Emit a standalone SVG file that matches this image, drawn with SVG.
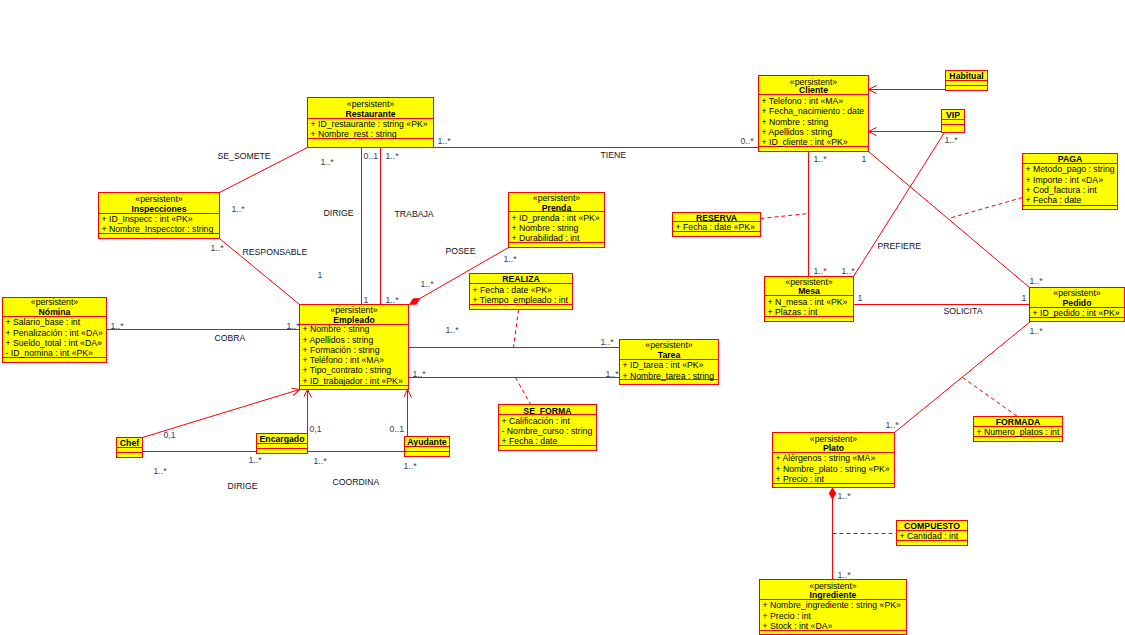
<svg xmlns="http://www.w3.org/2000/svg" width="1125" height="635" viewBox="0 0 1125 635">
<style>
.box{fill:#ffff00;stroke:#ff0000;stroke-width:1}
.sep{stroke:#ff0000;fill:none;stroke-width:1}
text{font-family:"Liberation Sans",Arial,sans-serif;font-size:8.7px;fill:#000}
.st{text-anchor:middle}
.nm{text-anchor:middle;font-weight:bold}
.ml{fill:#3c3c5c}
.al{fill:#10102a}
.ln{stroke:#ff0000;fill:none;stroke-width:1}
.dl{stroke:#ff0000;fill:none;stroke-width:1;stroke-dasharray:4 3}
</style>
<defs>
<marker id="gen" markerUnits="userSpaceOnUse" markerWidth="10" markerHeight="10" refX="8" refY="4" orient="auto">
<path d="M0,0 L8,4 L0,8" fill="none" stroke="#ff0000" stroke-width="1"/>
</marker>
<marker id="comp" markerUnits="userSpaceOnUse" markerWidth="14" markerHeight="8" refX="0" refY="3.5" orient="auto">
<path d="M0,3.5 L6,0 L12,3.5 L6,7 Z" fill="#ff0000" stroke="#ff0000" stroke-width="0.5"/>
</marker>
</defs>
<rect width="1125" height="635" fill="#ffffff"/>
<g transform="translate(.5 .5)">

<!-- associations, generalizations and association-class links -->
<g id="connectors">
<path class="ln" d="M219 192L307 147"/>
<path class="ln" d="M219 238L299 304"/>
<path class="ln" d="M361 147V304"/>
<path class="ln" d="M380 147V304"/>
<path class="ln" d="M433 147H758"/>
<path class="ln" d="M409 304L508 247" marker-start="url(#comp)"/>
<path class="ln" d="M106 329H299"/>
<path class="ln" d="M408 347H619"/>
<path class="ln" d="M408 377H619"/>
<path class="dl" d="M518 309L513 347"/>
<path class="dl" d="M515 377L530 404"/>
<path class="ln" d="M142 437L299 389" marker-end="url(#gen)"/>
<path class="ln" d="M307 433V389" marker-end="url(#gen)"/>
<path class="ln" d="M407 436V389" marker-end="url(#gen)"/>
<path class="ln" d="M142 451H256"/>
<path class="ln" d="M307 451H404"/>
<path class="ln" d="M945 89H868" marker-end="url(#gen)"/>
<path class="ln" d="M941 131H868" marker-end="url(#gen)"/>
<path class="ln" d="M808 151V276"/>
<path class="ln" d="M868 151L1029 287"/>
<path class="ln" d="M944 132L853 276"/>
<path class="dl" d="M760 218L808 213"/>
<path class="dl" d="M1022 197L948 218"/>
<path class="ln" d="M853 304H1029"/>
<path class="ln" d="M1030 321L894 432"/>
<path class="dl" d="M962 377L1017 416"/>
<path class="ln" d="M832 487V579" marker-start="url(#comp)"/>
<path class="dl" d="M832 533H896"/>

<!-- association names -->
<text class="al" x="217" y="158">SE_SOMETE</text>
<text class="al" x="242" y="254">RESPONSABLE</text>
<text class="al" x="323" y="215">DIRIGE</text>
<text class="al" x="394" y="216">TRABAJA</text>
<text class="al" x="445" y="253">POSEE</text>
<text class="al" x="600" y="157">TIENE</text>
<text class="al" x="214" y="340">COBRA</text>
<text class="al" x="227" y="488">DIRIGE</text>
<text class="al" x="332" y="484">COORDINA</text>
<text class="al" x="877" y="248">PREFIERE</text>
<text class="al" x="943" y="313">SOLICITA</text>

<!-- multiplicities -->
<text class="ml" x="320" y="164">1..*</text>
<text class="ml" x="231" y="211">1..*</text>
<text class="ml" x="210" y="250">1..*</text>
<text class="ml" x="317" y="277">1</text>
<text class="ml" x="363" y="158">0..1</text>
<text class="ml" x="385" y="158">1..*</text>
<text class="ml" x="363" y="302">1</text>
<text class="ml" x="385" y="302">1..*</text>
<text class="ml" x="503" y="261">1..*</text>
<text class="ml" x="420" y="286">1..*</text>
<text class="ml" x="437" y="143">1..*</text>
<text class="ml" x="740" y="143">0..*</text>
<text class="ml" x="110" y="328">1..*</text>
<text class="ml" x="286" y="328">1..*</text>
<text class="ml" x="445" y="332">1..*</text>
<text class="ml" x="600" y="344">1..*</text>
<text class="ml" x="412" y="376">1..*</text>
<text class="ml" x="605" y="376">1..*</text>
<text class="ml" x="163" y="437">0,1</text>
<text class="ml" x="309" y="431">0,1</text>
<text class="ml" x="389" y="431">0..1</text>
<text class="ml" x="153" y="473">1..*</text>
<text class="ml" x="248" y="462">1..*</text>
<text class="ml" x="313" y="463">1..*</text>
<text class="ml" x="403" y="468">1..*</text>
<text class="ml" x="813" y="161">1..*</text>
<text class="ml" x="861" y="161">1</text>
<text class="ml" x="944" y="142">1..*</text>
<text class="ml" x="813" y="273">1..*</text>
<text class="ml" x="841" y="273">1..*</text>
<text class="ml" x="1029" y="283">1..*</text>
<text class="ml" x="857" y="300">1</text>
<text class="ml" x="1021" y="300">1</text>
<text class="ml" x="1029" y="333">1..*</text>
<text class="ml" x="885" y="427">1..*</text>
<text class="ml" x="837" y="498">1..*</text>
<text class="ml" x="837" y="577">1..*</text>
</g>

<g id="restaurante">
<rect class="box" x="307" y="97" width="126" height="50"/>
<path class="sep" d="M307 118H433M307 138H433"/>
<text class="st" x="370" y="106">«persistent»</text>
<text class="nm" x="370" y="116">Restaurante</text>
<text x="310" y="126">+ ID_restaurante : string «PK»</text>
<text x="310" y="136">+ Nombre_rest : string</text>
</g>

<g id="inspecciones">
<rect class="box" x="98" y="192" width="121" height="46"/>
<path class="sep" d="M98 213H219M98 233H219"/>
<text class="st" x="158.5" y="201">«persistent»</text>
<text class="nm" x="158.5" y="211">Inspecciones</text>
<text x="101" y="221">+ ID_Inspecc : int «PK»</text>
<text x="101" y="231">+ Nombre_Inspecctor : string</text>
</g>

<g id="cliente">
<rect class="box" x="758" y="75" width="110" height="76"/>
<path class="sep" d="M758 94H868M758 146H868"/>
<text class="st" x="813" y="84">«persistent»</text>
<text class="nm" x="813" y="92">Cliente</text>
<text x="761" y="103">+ Telefono : int «MA»</text>
<text x="761" y="113">+ Fecha_nacimiento : date</text>
<text x="761" y="124">+ Nombre : string</text>
<text x="761" y="134">+ Apellidos : string</text>
<text x="761" y="144">+ ID_cliente : int «PK»</text>
</g>

<g id="habitual">
<rect class="box" x="945" y="70" width="42" height="20"/>
<path class="sep" d="M945 80H987M945 85H987"/>
<text class="nm" x="966" y="78">Habitual</text>
</g>

<g id="vip">
<rect class="box" x="941" y="109" width="23" height="23"/>
<path class="sep" d="M941 119H964M941 124H964"/>
<text class="nm" x="952.5" y="117">VIP</text>
</g>

<g id="reserva">
<rect class="box" x="672" y="212" width="88" height="24"/>
<path class="sep" d="M672 221H760M672 231H760"/>
<text class="nm" x="716" y="220">RESERVA</text>
<text x="675" y="229">+ Fecha : date «PK»</text>
</g>

<g id="paga">
<rect class="box" x="1022" y="153" width="95" height="56"/>
<path class="sep" d="M1022 163H1117M1022 205H1117"/>
<text class="nm" x="1069.5" y="161">PAGA</text>
<text x="1025" y="171">+ Metodo_pago : string</text>
<text x="1025" y="182">+ Importe : int «DA»</text>
<text x="1025" y="192">+ Cod_factura : int</text>
<text x="1025" y="202">+ Fecha : date</text>
</g>

<g id="mesa">
<rect class="box" x="764" y="276" width="89" height="45"/>
<path class="sep" d="M764 295H853M764 316H853"/>
<text class="st" x="808.5" y="284">«persistent»</text>
<text class="nm" x="808.5" y="293">Mesa</text>
<text x="767" y="304">+ N_mesa : int «PK»</text>
<text x="767" y="314">+ Plazas : int</text>
</g>

<g id="pedido">
<rect class="box" x="1029" y="287" width="95" height="34"/>
<path class="sep" d="M1029 307H1124M1029 317H1124"/>
<text class="st" x="1076.5" y="295">«persistent»</text>
<text class="nm" x="1076.5" y="305">Pedido</text>
<text x="1032" y="315">+ ID_pedido : int «PK»</text>
</g>

<g id="plato">
<rect class="box" x="772" y="432" width="122" height="55"/>
<path class="sep" d="M772 452H894M772 483H894"/>
<text class="st" x="833" y="441">«persistent»</text>
<text class="nm" x="833" y="450">Plato</text>
<text x="775" y="460">+ Alérgenos : string «MA»</text>
<text x="775" y="471">+ Nombre_plato : string «PK»</text>
<text x="775" y="481">+ Precio : int</text>
</g>

<g id="formada">
<rect class="box" x="973" y="416" width="89" height="25"/>
<path class="sep" d="M973 426H1062M973 436H1062"/>
<text class="nm" x="1017.5" y="424">FORMADA</text>
<text x="976" y="434">+ Numero_platos : int</text>
</g>

<g id="compuesto">
<rect class="box" x="896" y="520" width="71" height="25"/>
<path class="sep" d="M896 530H967M896 540H967"/>
<text class="nm" x="931.5" y="528">COMPUESTO</text>
<text x="899" y="538">+ Cantidad : int</text>
</g>

<g id="ingrediente">
<rect class="box" x="759" y="579" width="147" height="55"/>
<path class="sep" d="M759 599H906M759 630H906"/>
<text class="st" x="832.5" y="588">«persistent»</text>
<text class="nm" x="832.5" y="597">Ingrediente</text>
<text x="762" y="607">+ Nombre_ingrediente : string «PK»</text>
<text x="762" y="618">+ Precio : int</text>
<text x="762" y="628">+ Stock : int «DA»</text>
</g>

<g id="empleado">
<rect class="box" x="299" y="304" width="109" height="85"/>
<path class="sep" d="M299 324H408M299 385H408"/>
<text class="st" x="353.5" y="312">«persistent»</text>
<text class="nm" x="353.5" y="322">Empleado</text>
<text x="302" y="331">+ Nombre : string</text>
<text x="302" y="342">+ Apellidos : string</text>
<text x="302" y="352">+ Formación : string</text>
<text x="302" y="362">+ Teléfono : int «MA»</text>
<text x="302" y="372">+ Tipo_contrato : string</text>
<text x="302" y="383">+ ID_trabajador : int «PK»</text>
</g>

<g id="nomina">
<rect class="box" x="2" y="297" width="104" height="65"/>
<path class="sep" d="M2 316H106M2 357H106"/>
<text class="st" x="54" y="304">«persistent»</text>
<text class="nm" x="54" y="314">Nómina</text>
<text x="5" y="324">+ Salario_base : int</text>
<text x="5" y="335">+ Penalización : int «DA»</text>
<text x="5" y="345">+ Sueldo_total : int «DA»</text>
<text x="5" y="355">- ID_nomina : int «PK»</text>
</g>

<g id="prenda">
<rect class="box" x="508" y="192" width="96" height="55"/>
<path class="sep" d="M508 211H604M508 242H604"/>
<text class="st" x="556" y="200">«persistent»</text>
<text class="nm" x="556" y="210">Prenda</text>
<text x="511" y="220">+ ID_prenda : int «PK»</text>
<text x="511" y="230">+ Nombre : string</text>
<text x="511" y="240">+ Durabilidad : int</text>
</g>

<g id="realiza">
<rect class="box" x="469" y="273" width="103" height="36"/>
<path class="sep" d="M469 283H572M469 304H572"/>
<text class="nm" x="520.5" y="281">REALIZA</text>
<text x="472" y="292">+ Fecha : date «PK»</text>
<text x="472" y="302">+ Tiempo_empleado : int</text>
</g>

<g id="tarea">
<rect class="box" x="619" y="339" width="99" height="45"/>
<path class="sep" d="M619 359H718M619 379H718"/>
<text class="st" x="668.5" y="347">«persistent»</text>
<text class="nm" x="668.5" y="357">Tarea</text>
<text x="622" y="367">+ ID_tarea : int «PK»</text>
<text x="622" y="378">+ Nombre_tarea : string</text>
</g>

<g id="se_forma">
<rect class="box" x="498" y="404" width="98" height="46"/>
<path class="sep" d="M498 414H596M498 445H596"/>
<text class="nm" x="547" y="413">SE_FORMA</text>
<text x="501" y="423">+ Calificación : int</text>
<text x="501" y="433">- Nombre_curso : string</text>
<text x="501" y="443">+ Fecha : date</text>
</g>

<g id="chef">
<rect class="box" x="116" y="437" width="26" height="20"/>
<path class="sep" d="M116 447H142M116 452H142"/>
<text class="nm" x="129" y="445">Chef</text>
</g>

<g id="encargado">
<rect class="box" x="256" y="433" width="51" height="20"/>
<path class="sep" d="M256 443H307M256 448H307"/>
<text class="nm" x="281.5" y="441">Encargado</text>
</g>

<g id="ayudante">
<rect class="box" x="404" y="436" width="45" height="20"/>
<path class="sep" d="M404 446H449M404 451H449"/>
<text class="nm" x="426.5" y="444">Ayudante</text>
</g>

</g>
</svg>
